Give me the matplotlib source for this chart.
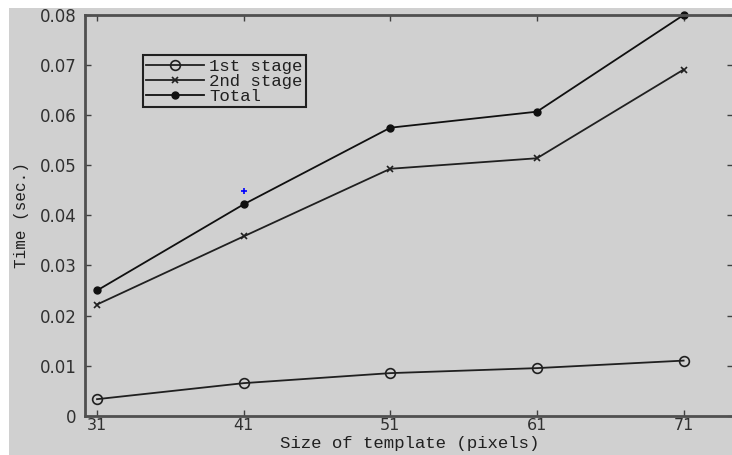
import matplotlib as mpl
mpl.use('Agg')
import matplotlib.pyplot as plt
from matplotlib.patches import Rectangle

sizes = [31, 41, 51, 61, 71]
stage1 = [0.0033, 0.0065, 0.0085, 0.0095, 0.0110]
stage2 = [0.0222, 0.0358, 0.0493, 0.0514, 0.0691]
total = [0.0250, 0.0422, 0.0575, 0.0607, 0.0800]
stray_pt = (41, 0.0449)

bg = '#d0d0d0'
mono = 'Liberation Mono'

fig = plt.figure(figsize=(7.32, 4.55), dpi=100, facecolor='white')
fig.patches.append(Rectangle((9/732, 0), 1, 1 - 8/455, transform=fig.transFigure,
                             facecolor=bg, edgecolor='none', zorder=-10))

ax = fig.add_axes([85/732, 1 - 415.7/455, 1 - 85/732 + 0.002, (415.7 - 15)/455])
ax.set_facecolor(bg)

ax.plot(sizes, stage1, '-o', color='#202020', lw=1.3, ms=7, mfc='none', mew=1.2, label='1st stage')
ax.plot(sizes, stage2, '-x', color='#202020', lw=1.3, ms=4, mew=1.2, label='2nd stage')
ax.plot(sizes, total, '-o', color='#101010', lw=1.3, ms=5, label='Total', clip_on=False)
ax.plot(*stray_pt, '+', color='blue', ms=4, mew=1.2)

ax.set_xlim(30.18, 74.4)
ax.set_ylim(0, 0.08)
ax.set_xticks(sizes)
ax.set_yticks([0, 0.01, 0.02, 0.03, 0.04, 0.05, 0.06, 0.07, 0.08])
ax.set_yticklabels(['0', '0.01', '0.02', '0.03', '0.04', '0.05', '0.06', '0.07', '0.08'])
ax.tick_params(direction='in', length=4, width=1, colors='#404040', labelcolor='#303030',
               labelsize=12, top=True, right=True, pad=6)
ax.tick_params(axis='x', labelsize=11.5, pad=2)
for s in ax.spines.values():
    s.set_color('#505050')
    s.set_linewidth(2)

ax.set_xlabel('Size of template (pixels)', fontfamily=mono, fontsize=12.5, color='#202020', labelpad=2)
ax.set_ylabel('Time (sec.)', fontfamily=mono, fontsize=11.5, color='#202020', labelpad=8)

leg = ax.legend(loc='upper left', bbox_to_anchor=(143/732, 1 - 55/455),
                bbox_transform=fig.transFigure, borderaxespad=0, borderpad=0.2,
                handlelength=3.3, handletextpad=0.3, labelspacing=0.0,
                fancybox=False, framealpha=1, facecolor=bg, edgecolor='#202020',
                prop={'family': mono, 'size': 12.5})
leg.get_frame().set_linewidth(1.5)
for t in leg.get_texts():
    t.set_color('#202020')

fig.savefig('out.png', dpi=100, facecolor=fig.get_facecolor())
